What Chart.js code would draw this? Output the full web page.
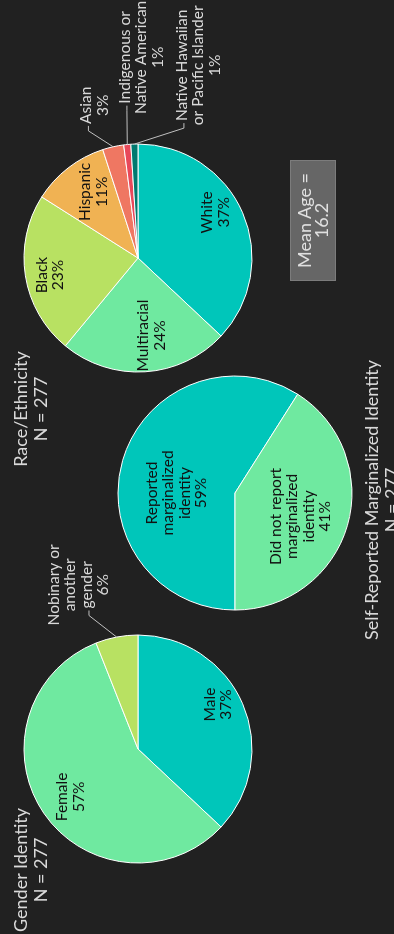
<!DOCTYPE html>
<html><head><meta charset="utf-8">
<script src="https://cdn.jsdelivr.net/npm/chart.js@4.4.1/dist/chart.umd.min.js"></script>
<style>
html,body{margin:0;padding:0;background:#212121;overflow:hidden;}
body{width:394px;height:934px;position:relative;}
#stage{position:absolute;left:0;top:0;width:934px;height:394px;transform-origin:0 0;transform:translateY(934px) rotate(-90deg);font-family:Lato,'DejaVu Sans',sans-serif;color:#d9d9d9;}
#stage canvas{position:absolute;left:0;top:0;}
.title{position:absolute;text-align:center;font-size:18px;line-height:19.5px;white-space:nowrap;transform:translateX(-50%);}
.mean{position:absolute;left:653px;top:290px;width:121px;height:46px;box-sizing:border-box;background:#666666;border:1px solid #7c7c7c;text-align:center;font-size:18px;line-height:17px;display:flex;flex-direction:column;justify-content:center;color:#e0e0e0;}
</style></head>
<body>
<div id="stage">
  <canvas id="gender" width="934" height="394"></canvas>
  <canvas id="identity" width="934" height="394"></canvas>
  <canvas id="race" width="934" height="394"></canvas>
  <div class="title" id="tGender" style="left:64px;top:11px;"></div>
  <div class="title" id="tRace" style="left:525px;top:11px;"></div>
  <div class="title" id="tIdentity" style="left:434px;top:362px;"></div>
  <div class="mean" id="meanBox"></div>
</div>
<script>
// ---- data ----
const sampleSize = 277;
const meanAge = 16.2;

const genderCats = ['Male', 'Female', ['Nobinary or', 'another', 'gender']];
const genderValues = [37, 57, 6];

const raceCats = ['White', 'Multiracial', 'Black', 'Hispanic', 'Asian',
  ['Indigenous or', 'Native American'], ['Native Hawaiian', 'or Pacific Islander']];
const raceValues = [37, 24, 23, 11, 3, 1, 1];

const identityCats = [['Reported', 'marginalized', 'identity'], ['Did not report', 'marginalized', 'identity']];
const identityValues = [59, 41];

const titles = {
  gender: 'Gender Identity',
  race: 'Race/Ethnicity',
  identity: 'Self-Reported Marginalized Identity'
};

// ---- styles ----
const TEAL = '#00C6BA', GREEN = '#6FE9A0', LIME = '#B8E162', ORANGE = '#F0B253',
      SALMON = '#EF7762', RED = '#E8485A', DARKTEAL = '#00796F';
const genderColors = [TEAL, GREEN, LIME];
const raceColors = [TEAL, GREEN, LIME, ORANGE, SALMON, RED, DARKTEAL];
const identityColors = [TEAL, GREEN];

const FONT = 'Lato, "DejaVu Sans", sans-serif';

// label placement: [fraction of radius along x, along y, leader line index or null]
const genderPlaces = [[0.39, 0.70, null], [-0.42, -0.59, null], [1.44, -0.52, 2]];
const racePlaces = [[0.40, 0.68, null], [-0.68, 0.12, null], [-0.15, -0.77, null], [0.58, -0.39, null],
  [1.34, -0.38, 0], [1.76, 0.03, 0], [1.69, 0.53, 0]];
const identityPlaces = [[0.0, -0.50, null], [-0.20, 0.56, null]];

const sliceLabels = {
  id: 'sliceLabels',
  afterDatasetsDraw(chart, args, opts) {
    const ctx = chart.ctx;
    const meta = chart.getDatasetMeta(0);
    const ds = chart.data.datasets[0];
    ctx.save();
    ctx.font = '15.5px ' + FONT;
    ctx.textAlign = 'center';
    ctx.textBaseline = 'middle';
    const LH = 16.5;
    meta.data.forEach((arc, i) => {
      const p = arc.getProps(['x', 'y', 'startAngle', 'endAngle', 'outerRadius'], true);
      const pl = opts.places[i];
      const lx = p.x + pl[0] * p.outerRadius;
      const ly = p.y + pl[1] * p.outerRadius;
      const name = chart.data.labels[i];
      const lines = (Array.isArray(name) ? name.slice() : [name]);
      lines.push(ds.data[i] + '%');
      const n = lines.length;
      const outside = pl[2] !== null;
      ctx.fillStyle = outside ? '#d9d9d9' : '#111111';
      lines.forEach((t, k) => {
        ctx.fillText(t, lx, ly + (k - (n - 1) / 2) * LH);
      });
      if (outside) {
        const k = pl[2];
        const w = ctx.measureText(lines[k]).width;
        const ex = lx - w / 2 - 2;
        const ey = ly + (k - (n - 1) / 2) * LH + 2;
        const mid = (p.startAngle + p.endAngle) / 2;
        const sx = p.x + Math.cos(mid) * p.outerRadius;
        const sy = p.y + Math.sin(mid) * p.outerRadius;
        ctx.strokeStyle = '#bfbfbf';
        ctx.lineWidth = 1;
        ctx.beginPath();
        ctx.moveTo(sx, sy);
        ctx.lineTo(ex - 5, ey);
        ctx.lineTo(ex, ey);
        ctx.stroke();
      }
    });
    ctx.restore();
  }
};

function makePie(id, cats, vals, colors, rotation, center, radius, places) {
  const W = 934, H = 394;
  const s = radius * 2 + 1;
  const pad = {
    left: center[0] - s / 2, right: W - (center[0] + s / 2),
    top: center[1] - s / 2, bottom: H - (center[1] + s / 2)
  };
  return new Chart(document.getElementById(id), {
    type: 'pie',
    data: {
      labels: cats,
      datasets: [{ data: vals, backgroundColor: colors, borderColor: '#ffffff', borderWidth: 1 }]
    },
    options: {
      responsive: false, animation: false, events: [],
      rotation: rotation,
      layout: { padding: pad },
      plugins: { legend: { display: false }, tooltip: { enabled: false }, sliceLabels: { places } }
    },
    plugins: [sliceLabels]
  });
}

makePie('gender', genderCats, genderValues, genderColors, 90, [185, 138], 114, genderPlaces);
makePie('race', raceCats, raceValues, raceColors, 90, [676, 138], 114, racePlaces);
makePie('identity', identityCats, identityValues, identityColors, 270, [441, 235], 117, identityPlaces);

document.getElementById('tGender').innerHTML = titles.gender + '<br>N = ' + sampleSize;
document.getElementById('tRace').innerHTML = titles.race + '<br>N = ' + sampleSize;
document.getElementById('tIdentity').innerHTML = titles.identity + '<br>N = ' + sampleSize;
document.getElementById('meanBox').innerHTML = '<div>Mean Age =</div><div>' + meanAge + '</div>';
</script>
</body></html>
